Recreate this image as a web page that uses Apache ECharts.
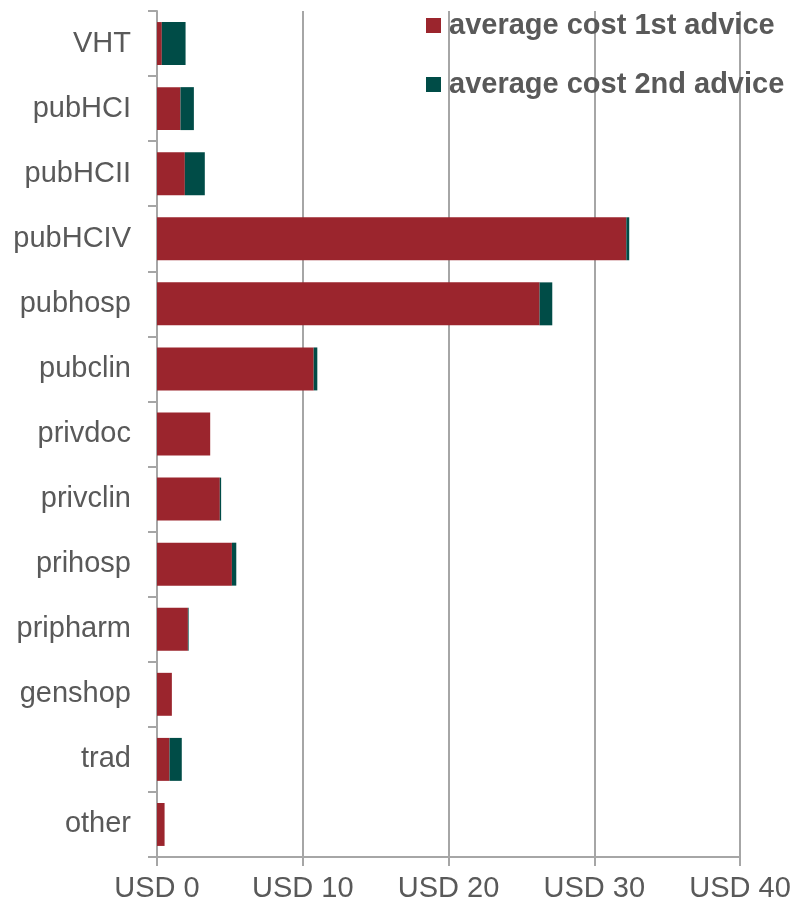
<!DOCTYPE html>
<html>
<head>
<meta charset="utf-8">
<script src="https://cdn.jsdelivr.net/npm/echarts@6/dist/echarts.min.js"></script>
<style>
  html, body { margin: 0; padding: 0; background: #fff; }
  #chart { width: 794px; height: 904px; }
</style>
</head>
<body>
<div id="chart"></div>
<script>
// categories, top to bottom
const categories = ['VHT', 'pubHCI', 'pubHCII', 'pubHCIV', 'pubhosp', 'pubclin', 'privdoc',
  'privclin', 'prihosp', 'pripharm', 'genshop', 'trad', 'other'];
const firstAdvice = [0.33, 1.61, 1.91, 32.2, 26.25, 10.75, 3.65, 4.31, 5.14, 2.12, 1.02, 0.86, 0.52];
const secondAdvice = [1.63, 0.92, 1.37, 0.2, 0.87, 0.25, 0, 0.09, 0.3, 0.05, 0, 0.84, 0];
const xTicks = [0, 10, 20, 30, 40];

const gray = '#a6a6a6';
const textColor = '#595959';

let charts = echarts.init(document.getElementById('chart'));
charts.setOption({
    animation: false,
    color: ['#9b252d', '#004c47'],
    textStyle: { fontFamily: 'Liberation Sans, Arial, sans-serif' },
    legend: {
        orient: 'vertical',
        left: 426,
        top: 11,
        padding: 0,
        itemWidth: 15,
        itemHeight: 15,
        itemGap: 30,
        icon: 'rect',
        textStyle: {
            fontSize: 29,
            fontWeight: 'bold',
            color: textColor,
            padding: [0, 0, 0, 3]
        },
        data: ['average cost 1st advice', 'average cost 2nd advice']
    },
    grid: {
        left: 157,
        right: 54,
        top: 11,
        bottom: 47
    },
    xAxis: {
        type: 'value',
        min: xTicks[0],
        max: xTicks[xTicks.length - 1],
        interval: 10,
        axisLine: { show: true, lineStyle: { color: gray, width: 2 } },
        axisTick: { show: true, length: 9, lineStyle: { color: gray, width: 2 } },
        splitLine: { show: true, lineStyle: { color: gray, width: 2 } },
        axisLabel: {
            fontSize: 29,
            color: textColor,
            margin: 17,
            formatter: v => 'USD ' + v
        }
    },
    yAxis: {
        type: 'category',
        inverse: true,
        data: categories,
        axisLine: { show: true, lineStyle: { color: gray, width: 2 } },
        axisTick: { show: true, length: 9, lineStyle: { color: gray, width: 2 } },
        axisLabel: {
            fontSize: 29,
            color: textColor,
            margin: 26
        }
    },
    series: [
        {
            name: 'average cost 1st advice',
            type: 'bar',
            stack: 'cost',
            barCategoryGap: '34%',
            data: firstAdvice
        },
        {
            name: 'average cost 2nd advice',
            type: 'bar',
            stack: 'cost',
            barCategoryGap: '34%',
            data: secondAdvice
        }
    ]
});
</script>
</body>
</html>
